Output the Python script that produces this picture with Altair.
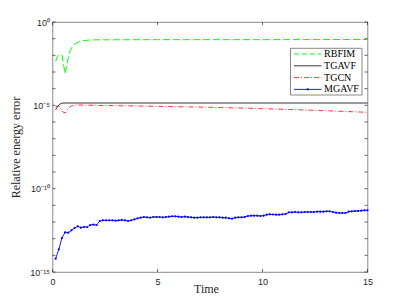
import altair as alt
import pandas as pd

# ---------------- data ----------------
series_names = ["RBFIM", "TGAVF", "TGCN", "MGAVF"]

rbfim_t = [0.15, 0.22, 0.30, 0.38, 0.46, 0.52, 0.60, 0.68, 0.75, 0.82, 0.90, 1.0,
           1.15, 1.3, 1.5, 1.75, 2.0, 5.0, 10.0, 15.0]
rbfim_exp = [-2.36, -2.10, -1.98, -1.95, -2.00, -2.50, -3.10, -2.60, -2.15, -1.80,
             -1.56, -1.40, -1.26, -1.17, -1.11, -1.08, -1.07, -1.06, -1.06, -1.05]

tgavf_t = [0.15, 0.25, 0.35, 0.45, 0.60, 15.0]
tgavf_exp = [-5.26, -5.06, -4.93, -4.87, -4.86, -4.86]

tgcn_t = [0.15, 0.25, 0.33, 0.42, 0.50, 0.60, 0.70, 0.80, 0.90, 1.05, 1.3, 2.0,
          3.0, 5.0, 8.0, 10.0, 12.0, 14.0, 15.0]
tgcn_exp = [-5.12, -5.02, -5.08, -5.25, -5.40, -5.46, -5.30, -5.12, -5.04, -4.99,
            -4.98, -5.00, -5.02, -5.06, -5.13, -5.20, -5.28, -5.37, -5.42]

mgavf_t = [0.15, 0.30, 0.45, 0.60, 0.75, 0.90, 1.05, 1.20, 1.35, 1.50,
           1.65, 1.80, 1.95, 2.10, 2.25, 2.40, 2.55, 2.70, 2.85, 3.00,
           3.15, 3.30, 3.45, 3.60, 3.75, 3.90, 4.05, 4.20, 4.35, 4.50,
           4.65, 4.80, 4.95, 5.10, 5.25, 5.40, 5.55, 5.70, 5.85, 6.00,
           6.15, 6.30, 6.45, 6.60, 6.75, 6.90, 7.05, 7.20, 7.35, 7.50,
           7.65, 7.80, 7.95, 8.10, 8.25, 8.40, 8.55, 8.70, 8.85, 9.00,
           9.15, 9.30, 9.45, 9.60, 9.75, 9.90, 10.05, 10.20, 10.35, 10.50,
           10.65, 10.80, 10.95, 11.10, 11.25, 11.40, 11.55, 11.70, 11.85, 12.00,
           12.15, 12.30, 12.45, 12.60, 12.75, 12.90, 13.05, 13.20, 13.35, 13.50,
           13.65, 13.80, 13.95, 14.10, 14.25, 14.40, 14.55, 14.70, 14.85, 15.00]
mgavf_exp = [-14.20, -13.64, -12.96, -12.62, -12.64, -12.50, -12.36, -12.26, -12.34, -12.30,
             -12.30, -12.18, -12.16, -12.18, -11.94, -11.90, -11.90, -11.90, -11.90, -11.92,
             -11.90, -11.88, -11.90, -11.94, -11.90, -11.84, -11.78, -11.74, -11.70, -11.72,
             -11.74, -11.70, -11.70, -11.70, -11.72, -11.70, -11.68, -11.66, -11.66, -11.68,
             -11.70, -11.68, -11.70, -11.72, -11.74, -11.74, -11.72, -11.72, -11.72, -11.72,
             -11.70, -11.72, -11.72, -11.74, -11.74, -11.78, -11.80, -11.74, -11.72, -11.72,
             -11.70, -11.64, -11.62, -11.62, -11.62, -11.64, -11.62, -11.56, -11.54, -11.55,
             -11.56, -11.56, -11.54, -11.52, -11.42, -11.42, -11.40, -11.42, -11.42, -11.40,
             -11.40, -11.40, -11.40, -11.38, -11.38, -11.38, -11.36, -11.36, -11.40, -11.44,
             -11.46, -11.46, -11.46, -11.38, -11.36, -11.34, -11.34, -11.32, -11.30, -11.30]

x_ticks = [0, 5, 10, 15]
y_tick_exps = [-15, -14, -13, -12, -11, -10, -9, -8, -7, -6, -5, -4, -3, -2, -1, 0]
y_label_exps = [-15, -10, -5, 0]

# ---------------- layout / style ----------------
W, H = 315, 250
AX = "#262626"
BOX = "#6a6a6a"


def frame(ts, exps):
    return pd.DataFrame({"t": ts, "value": [10.0 ** e for e in exps]})


x_scale = alt.Scale(domain=[0, 15], nice=False, zero=False)
y_scale = alt.Scale(type="log", domain=[1e-15, 1], nice=False)

x_axis = alt.Axis(
    values=x_ticks, format="d", title="Time", ticks=False, domain=False, grid=False,
    labelFont="Liberation Sans", labelFontSize=9, labelColor=AX, labelPadding=5,
    labelFlush=False, labelOverlap=False,
    titleFont="Liberation Serif", titleFontSize=12, titleFontWeight="normal",
    titleColor=AX, titleX=153.5, titleY=16, titleBaseline="middle", titleAlign="center",
)
lab = "round(log(datum.value)/LN10)"
y_axis = alt.Axis(
    values=[10.0 ** e for e in y_label_exps],
    labelExpr=(f"{lab} == 0 ? '10\u2070' : {lab} == -5 ? '10\u207b\u2075' : "
               f"{lab} == -10 ? '10\u207b\u00b9\u2070' : '10\u207b\u00b9\u2075'"),
    title="Relative energy error", ticks=False, domain=False, grid=False,
    labelFont="Liberation Sans", labelFontSize=9, labelColor=AX, labelPadding=3,
    labelOverlap=False, labelBaseline="middle",
    titleFont="Liberation Serif", titleFontSize=12, titleFontWeight="normal",
    titleColor=AX, titleX=-37, titleY=125, titleAngle=270,
    titleBaseline="middle", titleAlign="center",
)

X = alt.X("t:Q", scale=x_scale, axis=x_axis)
Y = alt.Y("value:Q", scale=y_scale, axis=y_axis)

rbfim = alt.Chart(frame(rbfim_t, rbfim_exp)).mark_line(
    color="#00ff00", strokeWidth=1, strokeDash=[7, 3]).encode(x=X, y=Y)
tgavf = alt.Chart(frame(tgavf_t, tgavf_exp)).mark_line(
    color="#000000", strokeWidth=0.8).encode(x=X, y=Y)
tgcn = alt.Chart(frame(tgcn_t, tgcn_exp)).mark_line(
    color="#ff0000", strokeWidth=0.8, strokeDash=[5, 2, 1, 2]).encode(x=X, y=Y)
mgavf = alt.Chart(frame(mgavf_t, mgavf_exp)).mark_line(
    color="#0000ff", strokeWidth=0.9,
    point=alt.OverlayMarkDef(filled=True, size=5, color="#0000ff"),
).encode(x=X, y=Y)

# inward tick marks (MATLAB style box)
ytick_df = pd.DataFrame({"value": [10.0 ** e for e in y_tick_exps]})
xtick_df = pd.DataFrame({"t": x_ticks})
tick_style = dict(color=AX, strokeWidth=0.7)
yt_left = alt.Chart(ytick_df).mark_rule(**tick_style).encode(
    y=Y, x=alt.value(0), x2=alt.value(3))
yt_right = alt.Chart(ytick_df).mark_rule(**tick_style).encode(
    y=Y, x=alt.value(W - 3), x2=alt.value(W))
xt_bot = alt.Chart(xtick_df).mark_rule(**tick_style).encode(
    x=X, y=alt.value(H), y2=alt.value(H - 3))
xt_top = alt.Chart(xtick_df).mark_rule(**tick_style).encode(
    x=X, y=alt.value(0), y2=alt.value(3))

# legend (drawn by hand to mimic MATLAB's legend box)
lg_x0, lg_x1, lg_y0, lg_y1 = 238, 309.5, 26.3, 73
line_x0, line_x1, text_x = 241.5, 269, 271.6
row_y0, row_dy = 32, 11.8
one = pd.DataFrame({"k": [0]})
legend_layers = [
    alt.Chart(one).mark_rect(fill="white", stroke=BOX, strokeWidth=0.8).encode(
        x=alt.value(lg_x0), x2=alt.value(lg_x1), y=alt.value(lg_y0), y2=alt.value(lg_y1))
]
styles = [
    dict(color="#00ff00", strokeWidth=1, strokeDash=[5, 3]),
    dict(color="#000000", strokeWidth=0.8),
    dict(color="#ff0000", strokeWidth=0.8, strokeDash=[5, 2, 1, 2]),
    dict(color="#0000ff", strokeWidth=0.9),
]
for i, name in enumerate(series_names):
    yy = row_y0 + i * row_dy
    d = pd.DataFrame({"name": [name]})
    legend_layers.append(alt.Chart(d).mark_rule(**styles[i]).encode(
        x=alt.value(line_x0), x2=alt.value(line_x1), y=alt.value(yy)))
    legend_layers.append(alt.Chart(d).mark_text(
        align="left", baseline="middle", font="Liberation Serif", fontSize=10,
        color="#000000").encode(x=alt.value(text_x), y=alt.value(yy), text="name:N"))
    if name == "MGAVF":
        legend_layers.append(alt.Chart(d).mark_point(
            filled=True, size=5, color="#0000ff", opacity=1).encode(
            x=alt.value((line_x0 + line_x1) / 2), y=alt.value(yy)))

chart = alt.layer(
    rbfim, tgavf, tgcn, mgavf, yt_left, yt_right, xt_bot, xt_top, *legend_layers
).properties(
    width=W, height=H,
    autosize=alt.AutoSizeParams(type="none"),
    padding={"left": 44.5, "top": 14, "right": 31.5, "bottom": 25},
    background="white",
).configure_view(stroke=BOX, strokeWidth=0.8)

chart.save("out.html", embed_options={"renderer": "svg", "actions": False})
